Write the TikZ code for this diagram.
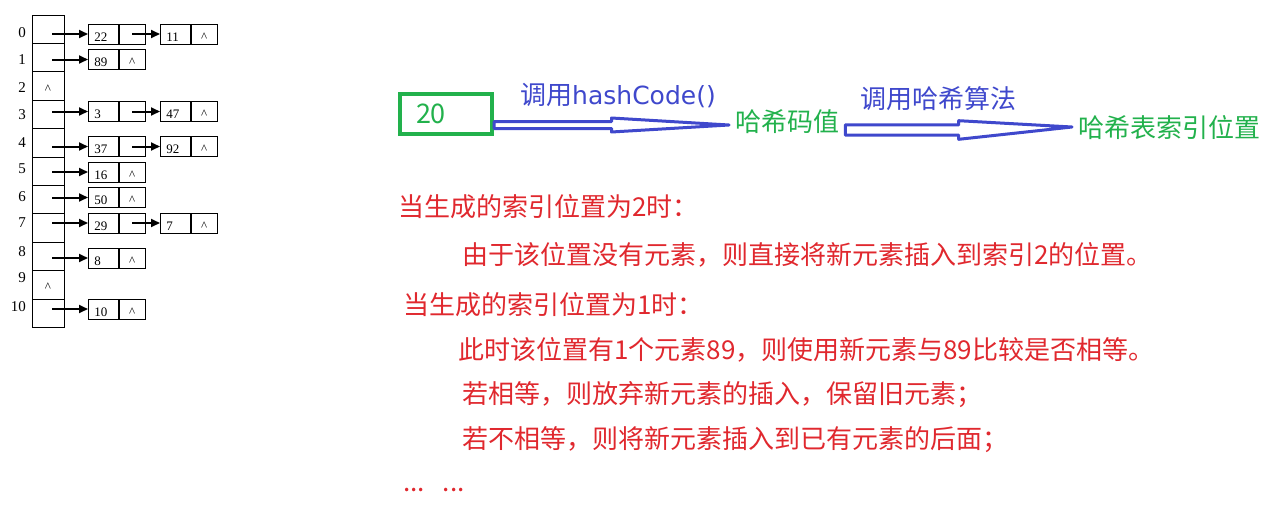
\documentclass[tikz,border=0pt]{standalone}
\usepackage{fontspec}
\setmainfont{Noto Sans CJK SC}
\newfontfamily\tabfont{Liberation Serif}
\newfontfamily\codefont{DejaVu Sans}
\usetikzlibrary{arrows.meta,positioning,calc}
\definecolor{hashgreen}{HTML}{22B14C}
\definecolor{callblue} {HTML}{3F48CC}
\definecolor{notered}  {HTML}{E0282E}
\newcommand{\nil}{\textasciicircum}
\newcommand{\hollowarrow}[4]{%
  \draw[hollow] let \p1=(#1), \p2=(#2), \p3=($(#1)!0.5!(#2)$) in
    (\x1,\y1+#3) -- (\x3,\y1+#3) -- (\x3,\y1+#4) -- (\x2,\y2)
    -- (\x3,\y1-#4) -- (\x3,\y1-#3) -- (\x1,\y1-#3) -- cycle;}
\tikzset{
  bucket/.style   ={draw=black, line width=0.8pt, minimum width=32pt, minimum height=28.4pt,
                    inner sep=0pt, text height=14pt, text depth=0pt,
                    font=\tabfont\fontsize{13}{13}\selectfont},
  idxlabel/.style ={anchor=east, inner sep=0pt, font=\tabfont\fontsize{15}{15}\selectfont},
  valcell/.style  ={draw=black, line width=0.8pt, minimum height=20pt, inner xsep=6pt,
                    inner ysep=0pt, text width=18pt, align=left, text height=14pt,
                    text depth=0pt, font=\tabfont\fontsize{13}{13}\selectfont},
  ptrcell/.style  ={draw=black, line width=0.8pt, minimum height=20pt, minimum width=26pt,
                    inner sep=0pt, text height=14pt, text depth=0pt,
                    font=\tabfont\fontsize{13}{13}\selectfont},
  linkarr/.style  ={-{Triangle[length=9pt,width=8pt]}, line width=2pt},
  numbox/.style   ={draw=hashgreen, line width=4pt, minimum height=40pt, inner xsep=16pt,
                    text width=60pt, align=left, text=hashgreen,
                    font=\fontsize{27}{30}\selectfont},
  hollow/.style   ={draw=callblue, line width=3pt, fill=white, line join=round},
  steplabel/.style={text=callblue, inner sep=0pt, font=\fontsize{26}{30}\selectfont},
  result/.style   ={text=hashgreen, inner xsep=6pt, inner ysep=0pt,
                    font=\fontsize{26}{30}\selectfont},
  note/.style     ={text=notered, anchor=west, inner sep=0pt, font=\fontsize{26}{30}\selectfont},
}

\begin{document}
\begin{tikzpicture}[x=1pt,y=-1pt]
  \useasboundingbox (0,0) rectangle (1281,530);

  \foreach \i/\t in {0/{},1/{},2/\nil,3/{},4/{},5/{},6/{},7/{},8/{},9/\nil,10/{}}
    \node[bucket] (b\i) at (48,{29.2+28.4*\i}) {\t};
  \foreach \i/\y in {0/33,1/60,2/88,3/115,4/143,5/169,6/197,7/223,8/252,9/278,10/307}
    \node[idxlabel] (l\i) at (26,\y) {\i};

  \foreach \r/\y/\v/\t in {0/34/22/{},1/59.5/89/\nil,3/111.5/3/{},4/146.5/37/{},5/172/16/\nil,
                           6/197.5/50/\nil,7/223/29/{},8/258/8/\nil,10/309/10/\nil}{
    \node[valcell, anchor=west] (v\r) at (88,\y) {\v};
    \node[ptrcell, right=0pt of v\r] (p\r) {\t};
    \draw[linkarr] ([xshift=4pt]b\r.center |- v\r.west) -- (v\r.west);
  }
  \foreach \r/\v in {0/11,3/47,4/92,7/7}{
    \node[valcell, anchor=west] (w\r) at ($(v\r.west)+(72,0)$) {\v};
    \node[ptrcell, right=0pt of w\r] (q\r) {\nil};
    \draw[linkarr] (p\r.center) -- (w\r.west);
  }

  \node[numbox] (num) at (446,114) {20};
  \node[result, anchor=west] (hash) at (729,122) {哈希码值};
  \node[result, anchor=west] (idx) at (1072,128) {哈希表索引位置};
  \node[steplabel] (call1) at (618,96) {调用{\codefont\fontsize{25}{30}\selectfont hashCode()}};
  \node[steplabel] (call2) at (938,99) {调用哈希算法};

  \coordinate (a1s) at ($(num.east |- hash.west)+(0,3)$);
  \coordinate (a1e) at ($(hash.west)+(0,3)$);
  \coordinate (a2s) at ($(hash.east)+(0,8)$);
  \coordinate (a2e) at ($(idx.west)+(0,-1)$);
  \hollowarrow{a1s}{a1e}{3.5pt}{7pt}
  \hollowarrow{a2s}{a2e}{5.2pt}{9.3pt}

  \node[note] (case2) at (398,207) {当生成的索引位置为2时：};
  \node[note] (empty) at (462,255) {由于该位置没有元素，则直接将新元素插入到索引2的位置。};
  \node[note] (case1) at (403,305) {当生成的索引位置为1时：};
  \node[note] (cmp) at (458,350) {此时该位置有1个元素89，则使用新元素与89比较是否相等。};
  \node[note] (same) at (462,395) {若相等，则放弃新元素的插入，保留旧元素；};
  \node[note] (diff) at (462,440) {若不相等，则将新元素插入到已有元素的后面；};
  \node[note] (more) at (403,490) {...\hspace{18pt}...};
\end{tikzpicture}
\end{document}
